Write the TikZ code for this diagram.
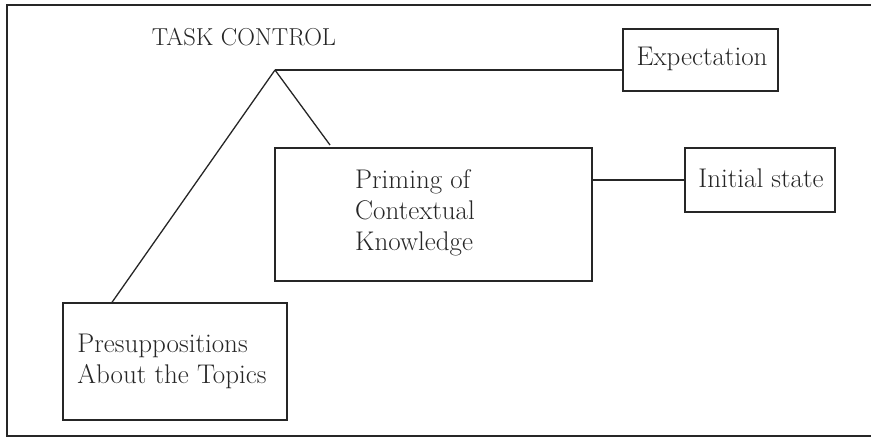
\documentclass[tikz,border=0pt]{standalone}
\begin{document}
\begin{tikzpicture}[x=1pt,y=-1pt,
  ln/.style={draw=black!85, line width=1.3pt},
  box/.style={ln, rectangle, inner sep=0pt},
  txt/.style={font=\fontsize{27}{31}\selectfont, text=black!85, inner sep=0pt, align=left}]
\useasboundingbox (0,0) rectangle (871,442);
% outer frame (open on the right, cut by the page)
\draw[ln] (871,5) -- (7,5) -- (7,436) -- (871,436);
% title
\node[txt, font=\fontsize{24.5}{28}\selectfont] (title) at (244,37) {TASK CONTROL};
% boxes
\node[box, minimum width=155, minimum height=62] (expect) at (700.5,60) {};
\node[txt] (expecttext) at (702,59) {Expectation};
\node[box, minimum width=317, minimum height=133] (priming) at (433.5,214.5) {};
\node[txt, anchor=west] (primingtext) at (355,213) {Priming of\\Contextual\\Knowledge};
\node[box, minimum width=150, minimum height=64] (init) at (760,180) {};
\node[txt] (inittext) at (761,178) {Initial state};
\node[box, minimum width=224, minimum height=117] (presup) at (175,361.5) {};
\node[txt] (presuptext) at (172,361) {Presuppositions\\About the Topics};
% connectors
\coordinate (apex) at (275,70);
\coordinate (branch) at (330,145);
\draw[ln] (apex) -- (apex -| expect.west);
\draw[ln] (apex) -- (branch);
\draw[ln] (apex) -- (presup.north -| 112,0);
\draw[ln] (priming.east |- init.west) -- (init.west);
\end{tikzpicture}
\end{document}
